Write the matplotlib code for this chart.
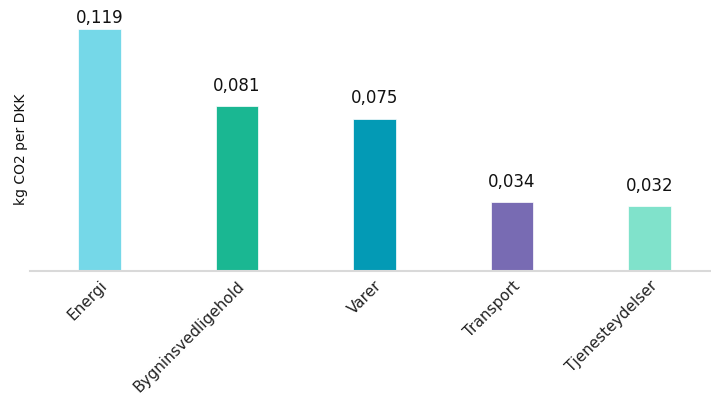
import matplotlib.pyplot as plt

categories = ["Energi", "Bygninsvedligehold", "Varer", "Transport", "Tjenesteydelser"]
values = [0.119, 0.081, 0.075, 0.034, 0.032]
value_labels = ["0,119", "0,081", "0,075", "0,034", "0,032"]
colors = ["#75D8E8", "#1AB792", "#039AB5", "#786BB3", "#80E2CB"]

fig = plt.figure(figsize=(7.11, 3.94), dpi=100)
ax = fig.add_axes([0.042, 0.312, 0.958, 0.671])

x = range(len(categories))
ax.bar(x, values, width=0.31, color=colors, edgecolor="white", linewidth=0.5)

ax.set_xlim(-0.505, 4.447)
ax.set_ylim(0, 0.13)

for i, v in enumerate(values):
    # label near the top would be pushed down (like the Excel original)
    off = 1.5 if v > 0.11 else 8
    ax.annotate(value_labels[i], (i, v), xytext=(0, off), textcoords="offset points",
                ha="center", va="bottom", fontsize=12, color="#111111")

ax.set_xticks(list(x))
ax.set_xticklabels(categories, rotation=45, ha="right", va="top",
                   rotation_mode="anchor", fontsize=11, color="#222222")
ax.tick_params(axis="x", length=0, pad=5)
ax.set_yticks([])

for s in ["top", "right", "left"]:
    ax.spines[s].set_visible(False)
ax.spines["bottom"].set_color("#d9d9d9")
ax.spines["bottom"].set_linewidth(1.5)

fig.text(0.029, 0.62, "kg CO2 per DKK", rotation=90, ha="center", va="center",
         fontsize=10, color="#111111")

plt.savefig("out.png", dpi=100)
